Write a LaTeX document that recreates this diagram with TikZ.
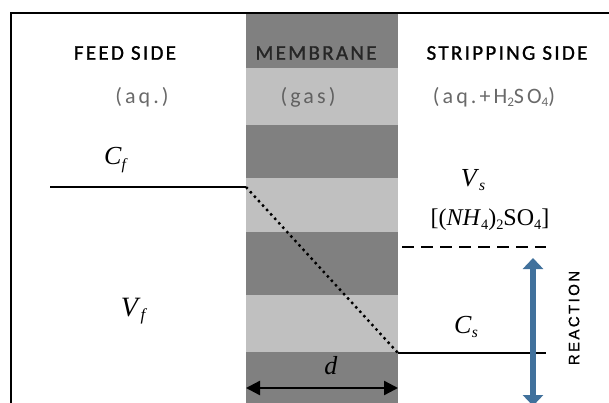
\documentclass[tikz,border=0pt]{standalone}
\usepackage{fontspec}
\setmainfont{Liberation Serif}
\newfontfamily\hdfont[LetterSpace=11,FakeBold=1.2]{Carlito}
\newfontfamily\subfont[LetterSpace=14]{Carlito}
\newfontfamily\rxfont[LetterSpace=16,FakeBold=1]{Liberation Sans}
\usetikzlibrary{arrows.meta}
\definecolor{banddark}{RGB}{128,128,128}
\definecolor{bandlight}{RGB}{192,192,192}
\definecolor{subgray}{RGB}{105,105,105}
\definecolor{rxblue}{RGB}{65,113,156}
\newcommand{\sbx}[1]{\raisebox{-0.35ex}{\fontsize{0.6em}{0.6em}\selectfont #1}}
\begin{document}
\begin{tikzpicture}[x=1pt,y=-1pt,
  hd/.style={font=\hdfont\fontsize{21}{23}\selectfont, inner sep=0pt},
  sub/.style={font=\subfont\fontsize{22}{24}\selectfont, text=subgray, inner sep=0pt},
  var/.style={inner sep=0pt},
  level/.style={line width=2.6pt},
  dashlevel/.style={line width=2.8pt, dash pattern=on 12pt off 7pt},
  grad/.style={line width=2.4pt, dash pattern=on 2.4pt off 3.6pt},
  rxarrow/.style={draw=rxblue, line width=5.5pt, {Triangle[width=20pt,length=11pt]}-{Triangle[width=20pt,length=11pt]}, rxblue},
  darrow/.style={line width=2.4pt, {Triangle[width=14pt,length=14pt]}-{Triangle[width=14pt,length=14pt]}}]
\useasboundingbox (0,0) rectangle (609,403);
\clip (0,0) rectangle (609,403);
% membrane bands
\fill[banddark]  (246,13)  rectangle (398,68);
\fill[bandlight] (246,68)  rectangle (398,125);
\fill[banddark]  (246,125) rectangle (398,178);
\fill[bandlight] (246,178) rectangle (398,232);
\fill[banddark]  (246,232) rectangle (398,295);
\fill[bandlight] (246,295) rectangle (398,352);
\fill[banddark]  (246,352) rectangle (398,410);
% frame
\draw[line width=2.6pt] (11,420) -- (11,13) -- (625,13);
% headers
\node[hd] (feed) at (125,53) {FEED SIDE};
\node[hd, text=black!85] (mem) at (316,53) {MEMBRANE};
\node[hd] (strip) at (507,53) {STRIPPING SIDE};
\node[sub] (aq) at (142,97) {(aq.)};
\node[sub, text=black!62] (gas) at (308,97) {(gas)};
\node[sub] (aqh) at (494,97) {(aq.+H\sbx{2}SO\sbx{4})};
% variables
\node[var, font=\fontsize{26}{28}\selectfont] (cf) at (116,160) {\textit{C}\sbx{\textit{f}}};
\node[var, font=\fontsize{28}{30}\selectfont] (vf) at (134,311) {\textit{V}\sbx{\textit{f}}};
\node[var, font=\fontsize{26}{28}\selectfont] (vs) at (473,180) {\textit{V}\sbx{\textit{s}}};
\node[var, font=\fontsize{24}{26}\selectfont] (nh) at (490,220) {[(\textit{NH}\sbx{4})\sbx{2}SO\sbx{4}]};
\node[var, font=\fontsize{26}{28}\selectfont] (cs) at (466,327) {\textit{C}\sbx{\textit{s}}};
\node[var, font=\fontsize{26}{28}\selectfont] (dl) at (331,366) {\textit{d}};
\node[rotate=90, font=\rxfont\fontsize{15}{17}\selectfont, inner sep=0pt] (rx) at (574,318) {REACTION};
% level lines
\coordinate (cfL) at (50,187);
\coordinate (cfR) at (246,187);
\coordinate (csL) at (398,353);
\coordinate (csR) at (546,353);
\coordinate (dsL) at (402,247);
\coordinate (dsR) at (546,247);
\draw[level] (cfL) -- (cfR);
\draw[grad] (cfR) -- (csL);
\draw[level] (csL) -- (csR);
\draw[dashlevel] (dsL) -- (dsR);
% reaction arrow
\coordinate (rxT) at (533,258);
\coordinate (rxB) at (533,406);
\draw[rxarrow] (rxT) -- (rxB);
% thickness arrow
\coordinate (dA) at (246,388);
\coordinate (dB) at (398,388);
\draw[darrow] (dA) -- (dB);
\end{tikzpicture}
\end{document}
